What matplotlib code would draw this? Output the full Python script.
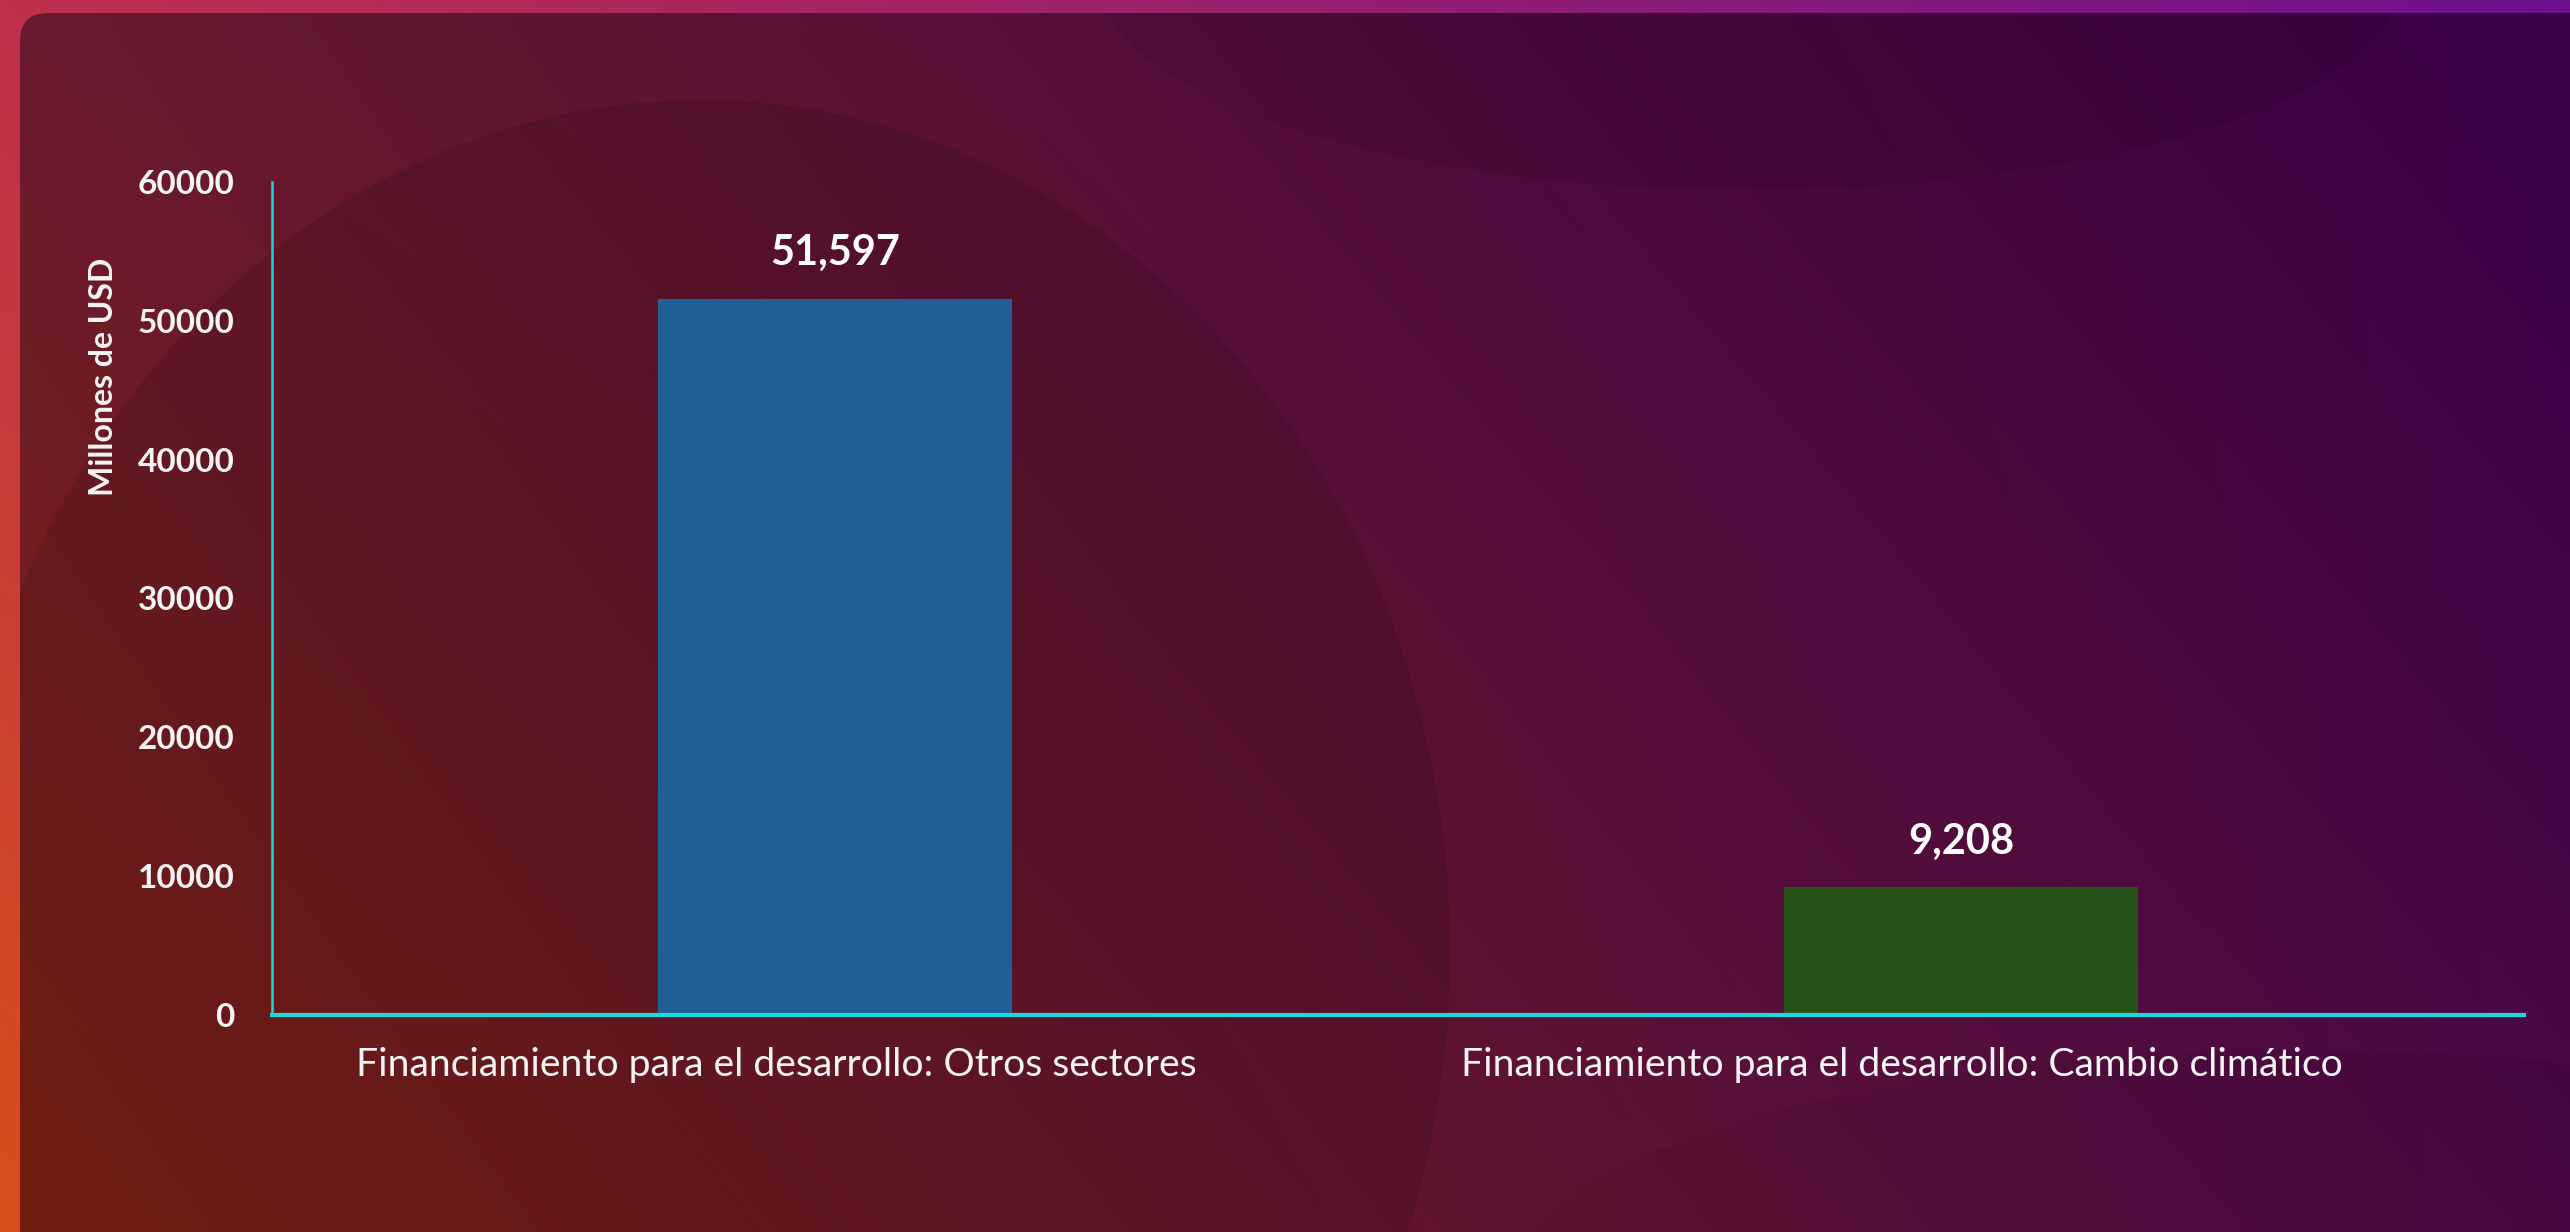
import numpy as np
import matplotlib
matplotlib.use("Agg")
import matplotlib.pyplot as plt
import matplotlib.transforms as mtransforms
from matplotlib.colors import to_rgb
from matplotlib.patches import FancyBboxPatch, Ellipse

# ── Data ──────────────────────────────────────────────────────────────────────
categories = ["Financiamiento para el desarrollo: Otros sectores",
              "Financiamiento para el desarrollo: Cambio climático"]
values = [51597, 9208]
value_labels = ["51,597", "9,208"]
bar_colors = ["#1f6096", "#245217"]
yticks = [0, 10000, 20000, 30000, 40000, 50000, 60000]

plt.rcParams['font.family'] = ['Lato', 'DejaVu Sans']

W, H = 2570, 1232
fig = plt.figure(figsize=(W / 100, H / 100), dpi=100)


def bilinear(tl, tr, bl, br, nx=400, ny=200):
    tl, tr, bl, br = [np.array(to_rgb(c)) for c in (tl, tr, bl, br)]
    u = np.linspace(0, 1, nx)[None, :, None]
    v = np.linspace(0, 1, ny)[:, None, None]
    top = tl * (1 - u) + tr * u
    bot = bl * (1 - u) + br * u
    return top * (1 - v) + bot * v


# ── Background: outer frame + rounded dark panel ─────────────────────────────
bg = fig.add_axes([0, 0, 1, 1], zorder=-10)
bg.set_xlim(0, W)
bg.set_ylim(H, 0)
bg.axis('off')
bg.imshow(bilinear("#c0304c", "#6e1090", "#d8501a", "#6a1070"),
          extent=(0, W, H, 0), aspect='auto', interpolation='bicubic')

panel = FancyBboxPatch((20, 13), W + 200, H + 200,
                       boxstyle="round,pad=0,rounding_size=28",
                       transform=bg.transData, facecolor='none', edgecolor='none')
bg.add_patch(panel)
im = bg.imshow(bilinear("#6a1a2e", "#380046", "#7e2212", "#4c0a48"),
               extent=(0, W, H, 0), aspect='auto', interpolation='bicubic')
im.set_clip_path(panel)

# soft shapes of the wallpaper
for (cx, cy, w, h, a) in [(700, 950, 1500, 1700, 0.10),
                          (1750, -20, 1300, 420, 0.07),
                          (2300, 1300, 1600, 500, 0.05)]:
    e = Ellipse((cx, cy), w, h, facecolor='black', alpha=a, edgecolor='none',
                transform=bg.transData)
    e.set_clip_path(panel)
    bg.add_patch(e)

# ── Chart ─────────────────────────────────────────────────────────────────────
ax = fig.add_axes([272 / W, 1 - 1015 / H, (2524 - 272) / W, (1015 - 182) / H])
ax.patch.set_alpha(0)

x = np.arange(len(categories))
bars = ax.bar(x, values, width=0.315, color=bar_colors, zorder=2)

for xi, v, lab in zip(x, values, value_labels):
    ax.annotate(lab, xy=(xi, v), xytext=(0, 19), textcoords='offset points',
                ha='center', va='bottom', fontsize=30, fontweight='bold',
                color='white')

ax.set_xlim(-0.5, 1.5)
ax.set_ylim(0, 60000)
ax.set_yticks(yticks)
ax.set_yticklabels([str(t) for t in yticks])
ax.set_xticks(x)
ax.set_xticklabels(categories)

ax.tick_params(axis='y', length=0, pad=27, labelsize=24, labelcolor='#f4f4f4')
ax.tick_params(axis='x', length=0, pad=23, labelsize=28.2, labelcolor='#f4f4f4')
for t in ax.get_yticklabels():
    t.set_fontweight('bold')
# category labels sit a bit left of the bar centres in the original
shift = mtransforms.ScaledTranslation(-0.59, 0, fig.dpi_scale_trans)
for t in ax.get_xticklabels():
    t.set_transform(t.get_transform() + shift)

for side in ['top', 'right']:
    ax.spines[side].set_visible(False)
for side in ['left', 'bottom']:
    ax.spines[side].set_color('#1ed6dc')
ax.spines['bottom'].set_linewidth(3)
ax.spines['left'].set_linewidth(1.8)

ax.set_ylabel("Millones de USD", fontsize=23, fontweight='bold', color='#f4f4f4')
ax.yaxis.label.set_va('center')
ax.yaxis.set_label_coords(-0.075, 0.766)

fig.savefig("out.png", dpi=100)
